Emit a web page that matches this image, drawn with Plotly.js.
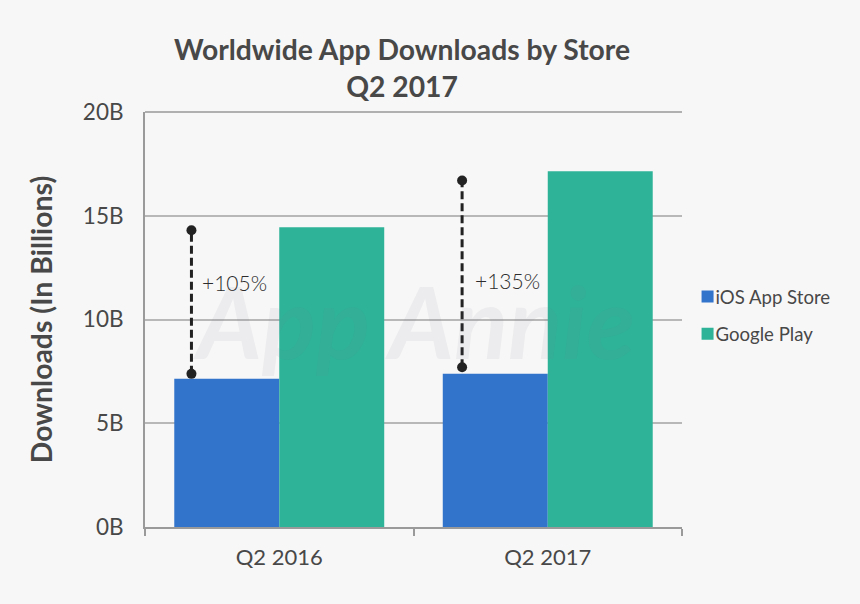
<!DOCTYPE html>
<html><head><meta charset="utf-8">
<script src="https://cdn.plot.ly/plotly-3.0.1.min.js"></script>
<style>html,body{margin:0;padding:0;background:#f7f7f7}</style></head>
<body><div id="c" style="width:860px;height:604px"></div>
<script>
const groupPositions=[0,1];
const categories=['Q2 2016','Q2 2017'];
const iosValues=[7.14,7.38];
const playValues=[14.45,17.14];
const yTicks=[0,5,10,15,20];
const yLabels=['0B','5B','10B','15B','20B'];
const growthX=[-0.327,0.681];
const growthLow=[7.38,7.7];
const growthHigh=[14.3,16.7];
const growthLabels=['+105%','+135%'];
const font='Lato, "Open Sans", sans-serif';
const ink='#484848';
const growthTrace=i=>({type:'scatter',mode:'lines+markers',x:[growthX[i],growthX[i]],y:[growthLow[i],growthHigh[i]],
  line:{color:'#222222',width:3,dash:'8px,4px'},marker:{color:'#222222',size:10},showlegend:false,hoverinfo:'skip',cliponaxis:false});
const data=[
 {type:'bar',name:'iOS App Store',legendgroup:'a',x:groupPositions,y:iosValues,marker:{color:'#3274cb'}},
 {type:'bar',name:'Google Play',legendgroup:'b',x:groupPositions,y:playValues,marker:{color:'#2eb398'}},
 growthTrace(0),growthTrace(1)
];
const annotations=[
 {xref:'paper',yref:'paper',x:0.5,y:0.5,text:'<b><i>App Annie</i></b>',showarrow:false,
  font:{family:font,size:100,color:'rgba(110,120,140,0.08)'}},
 {x:growthX[0]+0.032,y:11.8,xanchor:'left',text:growthLabels[0],showarrow:false,font:{family:font,size:21,color:'#2c2c2c',weight:300}},
 {x:growthX[1]+0.041,y:11.9,xanchor:'left',text:growthLabels[1],showarrow:false,font:{family:font,size:21,color:'#2c2c2c',weight:300}}
];
const layout={width:860,height:604,paper_bgcolor:'#f7f7f7',plot_bgcolor:'#f7f7f7',
 margin:{l:145,r:178,t:111.5,b:76.5},barmode:'group',bargap:0.218,bargroupgap:0,
 font:{family:font,color:ink},
 title:{text:'<b>Worldwide App Downloads by Store<br>Q2 2017</b>',x:0.4675,xanchor:'center',y:0.9,yanchor:'middle',yref:'container',
   font:{family:font,size:28.3,color:ink}},
 xaxis:{range:[-0.5,1.5],tickmode:'array',tickvals:groupPositions,ticktext:categories,ticks:'',ticklabelstandoff:10,
   showgrid:false,zeroline:false,showline:true,linecolor:'#9a9a9a',linewidth:2,
   tickfont:{family:font,size:22,color:ink},
   minor:{tickmode:'array',tickvals:[-0.5,0.5,1.5],ticks:'outside',ticklen:7,tickwidth:2,tickcolor:'#9a9a9a',showgrid:false}},
 yaxis:{range:[0,20],tickmode:'array',tickvals:yTicks,ticktext:yLabels,ticks:'',ticklabelstandoff:15,
   showgrid:true,gridcolor:'#b8b8b8',gridwidth:2,zeroline:false,showline:true,linecolor:'#9a9a9a',linewidth:2,
   tickfont:{family:font,size:22.5,color:ink},
   title:{text:'<b>Downloads (In Billions)</b>',standoff:22,font:{family:font,size:28.4,color:ink}}},
 legend:{x:0.988,y:0.6,xanchor:'left',yanchor:'top',bgcolor:'rgba(0,0,0,0)',font:{family:font,size:18.6,color:ink},
   itemwidth:30,traceorder:'grouped',tracegroupgap:10},
 shapes:[{type:'line',xref:'paper',yref:'paper',x0:0,x1:1,y0:1,y1:1,line:{color:'#b0b0b0',width:2},layer:'below'}],
 annotations};
Plotly.newPlot('c',data,layout,{displayModeBar:false,staticPlot:true}).then(()=>{
  document.querySelectorAll('#c .legend .legendsymbols').forEach(g=>g.setAttribute('transform','translate(12,0)'));
});
</script></body></html>
